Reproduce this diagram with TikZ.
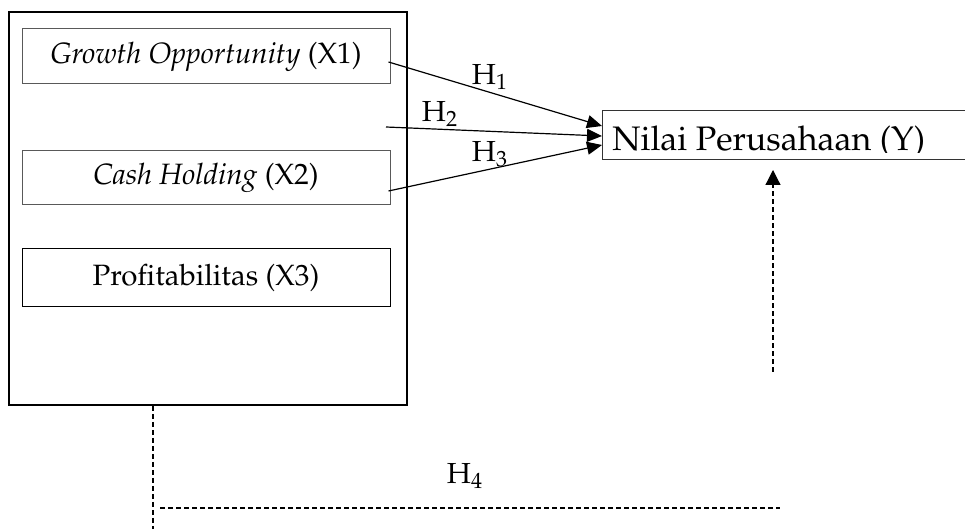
\documentclass[tikz,border=0pt]{standalone}
\usepackage[T1]{fontenc}
\usepackage{mathpazo}
\usetikzlibrary{arrows.meta,calc}
\begin{document}
\begin{tikzpicture}[x=0.5pt,y=-0.5pt,
  varbox/.style={draw=black!65,line width=0.5pt,minimum width=184pt,inner sep=0pt,font=\fontsize{14.7}{17}\selectfont},
  hyp/.style={-{Triangle[length=7.5pt,width=6.5pt]},line width=0.6pt},
  dashln/.style={dash pattern=on 2.5pt off 1.5pt,line width=0.6pt},
  lbl/.style={font=\fontsize{14.5}{17}\selectfont,inner sep=0pt}]
\useasboundingbox (0,0) rectangle (965,529);
% independent variables
\node[draw,line width=1pt,minimum width=199pt,minimum height=196.5pt,anchor=north west,inner sep=0pt] (outer) at (8,11) {};
\node[varbox,minimum height=27.5pt] (go) at (206,56.5) {\textit{Growth Opportunity} (X1)};
\node[varbox,minimum height=27pt] (ch) at (206,178) {\textit{Cash Holding} (X2)};
\node[varbox,draw=black,minimum height=29pt] (pr) at (206,278) {Profitabilitas (X3)};
% dependent variable
\node[draw=black!80,line width=0.5pt,anchor=west,minimum height=24.5pt,minimum width=199pt,inner sep=0pt] (nilai) at (602,135.5) {};
\begin{scope}
  \clip (nilai.north west) rectangle ($(nilai.south east)+(0,-8)$);
  \node[anchor=base west,inner sep=0pt,font=\fontsize{17}{19}\selectfont] (nilaitxt) at (612,150.5) {Nilai Perusahaan (Y)};
\end{scope}
\coordinate (h2start) at (386,127);
\coordinate (h4start) at (153,406);
\coordinate (h4bend) at (153,529);
\coordinate (h4left) at (160,508);
\coordinate (h4right) at (780,508);
\coordinate (h4up) at (773,372);
\coordinate (h4tip) at (773,170);
% hypotheses
\draw[hyp] ($(go.east)+(-2,5.5)$) -- ($(nilai.west)+(0,-9.5)$);
\draw[hyp] (h2start) -- ($(nilai.west)+(0,0.5)$);
\draw[hyp] ($(ch.east)+(-2,13)$) -- ($(nilai.west)+(0,9.5)$);
\node[lbl] (h1) at (490,77) {H$_1$};
\node[lbl] (h2) at (440,114) {H$_2$};
\node[lbl] (h3) at (490,154) {H$_3$};
% moderation
\draw[dashln] (h4start) -- (h4bend);
\draw[dashln] (h4left) -- (h4right);
\draw[dashln,-{Triangle[length=7.5pt,width=7.5pt]}] (h4up) -- (h4tip);
\node[lbl] (h4) at (465,476) {H$_4$};
\end{tikzpicture}
\end{document}
